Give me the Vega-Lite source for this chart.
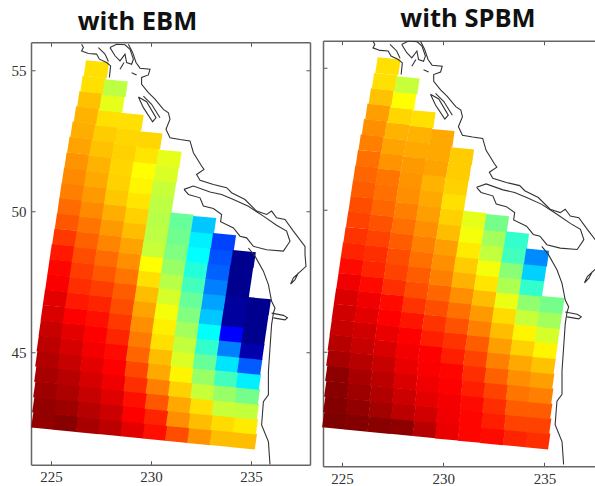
{"$schema":"https://vega.github.io/schema/vega-lite/v6.json","padding":{"left":11,"top":6.5,"right":0,"bottom":0},"spacing":11,"center":true,"background":"white","config":{"view":{"stroke":null},"axis":{"grid":false,"domainColor":"#666","domainWidth":1.5,"tickColor":"#555","tickSize":-4,"labelFont":"Liberation Serif","labelFontSize":15,"labelColor":"#333","title":null,"labelPadding":9}},
"datasets":{"cells":[
{"lon":224.64,"lat":42.58,"e":0.02,"s":0},{"lon":224.69,"lat":43.12,"e":0.02,"s":0.005},{"lon":224.74,"lat":43.66,"e":0.03,"s":0.01},{"lon":224.79,"lat":44.21,"e":0.04,"s":0.015},{"lon":224.84,"lat":44.75,"e":0.05,"s":0.04},{"lon":224.91,"lat":45.29,"e":0.06,"s":0.055},{"lon":225.01,"lat":45.83,"e":0.07,"s":0.07},{"lon":225.11,"lat":46.37,"e":0.09,"s":0.08},{"lon":225.22,"lat":46.92,"e":0.1,"s":0.09},{"lon":225.34,"lat":47.46,"e":0.12,"s":0.11},{"lon":225.45,"lat":48,"e":0.13,"s":0.135},{"lon":225.56,"lat":48.54,"e":0.15,"s":0.16},{"lon":225.69,"lat":49.08,"e":0.18,"s":0.175},{"lon":225.82,"lat":49.63,"e":0.21,"s":0.19},{"lon":225.94,"lat":50.17,"e":0.23,"s":0.2},{"lon":226.05,"lat":50.71,"e":0.25,"s":0.215},{"lon":226.17,"lat":51.25,"e":0.26,"s":0.225},{"lon":226.3,"lat":51.79,"e":0.27,"s":0.235},{"lon":226.44,"lat":52.34,"e":0.285,"s":0.25},{"lon":226.6,"lat":52.88,"e":0.295,"s":0.265},{"lon":226.77,"lat":53.42,"e":0.3,"s":0.28},{"lon":226.94,"lat":53.96,"e":0.315,"s":0.315},{"lon":227.1,"lat":54.5,"e":0.345,"s":0.345},{"lon":227.27,"lat":55.05,"e":0.345,"s":0.345},
{"lon":225.75,"lat":42.5,"e":0.01,"s":0.005},{"lon":225.8,"lat":43.04,"e":0.03,"s":0.02},{"lon":225.85,"lat":43.58,"e":0.045,"s":0.03},{"lon":225.9,"lat":44.12,"e":0.055,"s":0.04},{"lon":225.95,"lat":44.66,"e":0.07,"s":0.055},{"lon":226.02,"lat":45.2,"e":0.085,"s":0.07},{"lon":226.12,"lat":45.74,"e":0.1,"s":0.08},{"lon":226.22,"lat":46.28,"e":0.125,"s":0.1},{"lon":226.33,"lat":46.82,"e":0.15,"s":0.11},{"lon":226.45,"lat":47.36,"e":0.17,"s":0.135},{"lon":226.56,"lat":47.9,"e":0.185,"s":0.16},{"lon":226.67,"lat":48.44,"e":0.2,"s":0.17},{"lon":226.8,"lat":48.98,"e":0.22,"s":0.19},{"lon":226.93,"lat":49.52,"e":0.24,"s":0.205},{"lon":227.05,"lat":50.06,"e":0.26,"s":0.225},{"lon":227.16,"lat":50.6,"e":0.275,"s":0.235},{"lon":227.28,"lat":51.14,"e":0.29,"s":0.24},{"lon":227.41,"lat":51.68,"e":0.3,"s":0.27},{"lon":227.55,"lat":52.22,"e":0.315,"s":0.285},{"lon":227.71,"lat":52.76,"e":0.325,"s":0.3},{"lon":227.88,"lat":53.3,"e":0.345,"s":0.335},{"lon":228.05,"lat":53.84,"e":0.4,"s":0.375},{"lon":228.21,"lat":54.38,"e":0.44,"s":0.43},
{"lon":226.87,"lat":42.42,"e":0.04,"s":0.01},{"lon":226.92,"lat":42.96,"e":0.055,"s":0.035},{"lon":226.97,"lat":43.5,"e":0.07,"s":0.05},{"lon":227.02,"lat":44.04,"e":0.085,"s":0.06},{"lon":227.07,"lat":44.58,"e":0.1,"s":0.07},{"lon":227.14,"lat":45.11,"e":0.115,"s":0.09},{"lon":227.24,"lat":45.65,"e":0.125,"s":0.105},{"lon":227.34,"lat":46.19,"e":0.14,"s":0.125},{"lon":227.45,"lat":46.73,"e":0.16,"s":0.135},{"lon":227.57,"lat":47.27,"e":0.185,"s":0.17},{"lon":227.68,"lat":47.81,"e":0.21,"s":0.19},{"lon":227.79,"lat":48.34,"e":0.23,"s":0.2},{"lon":227.92,"lat":48.88,"e":0.255,"s":0.215},{"lon":228.05,"lat":49.42,"e":0.275,"s":0.235},{"lon":228.17,"lat":49.96,"e":0.295,"s":0.25},{"lon":228.28,"lat":50.5,"e":0.32,"s":0.265},{"lon":228.4,"lat":51.03,"e":0.33,"s":0.27},{"lon":228.53,"lat":51.57,"e":0.335,"s":0.275},{"lon":228.67,"lat":52.11,"e":0.33,"s":0.29},{"lon":228.83,"lat":52.65,"e":0.335,"s":0.3},{"lon":229,"lat":53.19,"e":0.345,"s":0.345},
{"lon":227.98,"lat":42.35,"e":0.06,"s":0.015},{"lon":228.03,"lat":42.88,"e":0.075,"s":0.06},{"lon":228.08,"lat":43.42,"e":0.095,"s":0.075},{"lon":228.13,"lat":43.96,"e":0.11,"s":0.09},{"lon":228.18,"lat":44.49,"e":0.125,"s":0.105},{"lon":228.25,"lat":45.03,"e":0.135,"s":0.115},{"lon":228.35,"lat":45.56,"e":0.16,"s":0.125},{"lon":228.45,"lat":46.1,"e":0.18,"s":0.145},{"lon":228.56,"lat":46.64,"e":0.2,"s":0.175},{"lon":228.68,"lat":47.17,"e":0.215,"s":0.2},{"lon":228.79,"lat":47.71,"e":0.24,"s":0.215},{"lon":228.9,"lat":48.24,"e":0.265,"s":0.235},{"lon":229.03,"lat":48.78,"e":0.285,"s":0.25},{"lon":229.16,"lat":49.32,"e":0.31,"s":0.265},{"lon":229.28,"lat":49.85,"e":0.33,"s":0.28},{"lon":229.39,"lat":50.39,"e":0.35,"s":0.29},{"lon":229.51,"lat":50.92,"e":0.365,"s":0.3},{"lon":229.64,"lat":51.46,"e":0.375,"s":0.285},{"lon":229.78,"lat":52,"e":0.35,"s":0.29},{"lon":229.94,"lat":52.53,"e":0.335,"s":0.29},
{"lon":229.1,"lat":42.27,"e":0.1,"s":0.055},{"lon":229.15,"lat":42.8,"e":0.125,"s":0.08},{"lon":229.2,"lat":43.34,"e":0.14,"s":0.1},{"lon":229.25,"lat":43.87,"e":0.17,"s":0.11},{"lon":229.3,"lat":44.4,"e":0.195,"s":0.12},{"lon":229.37,"lat":44.94,"e":0.225,"s":0.125},{"lon":229.47,"lat":45.47,"e":0.245,"s":0.155},{"lon":229.57,"lat":46,"e":0.265,"s":0.175},{"lon":229.68,"lat":46.54,"e":0.285,"s":0.2},{"lon":229.8,"lat":47.07,"e":0.31,"s":0.225},{"lon":229.91,"lat":47.61,"e":0.345,"s":0.25},{"lon":230.02,"lat":48.14,"e":0.375,"s":0.265},{"lon":230.15,"lat":48.67,"e":0.43,"s":0.28},{"lon":230.28,"lat":49.21,"e":0.44,"s":0.31},{"lon":230.4,"lat":49.74,"e":0.445,"s":0.33},{"lon":230.51,"lat":50.28,"e":0.44,"s":0.345},{"lon":230.63,"lat":50.81,"e":0.43,"s":0.33},{"lon":230.76,"lat":51.34,"e":0.41,"s":0.325},{"lon":230.9,"lat":51.88,"e":0.4,"s":0.325},
{"lon":230.21,"lat":42.19,"e":0.14,"s":0.105},{"lon":230.26,"lat":42.72,"e":0.16,"s":0.11},{"lon":230.31,"lat":43.25,"e":0.21,"s":0.115},{"lon":230.36,"lat":43.79,"e":0.25,"s":0.125},{"lon":230.41,"lat":44.32,"e":0.29,"s":0.13},{"lon":230.48,"lat":44.85,"e":0.31,"s":0.155},{"lon":230.58,"lat":45.38,"e":0.345,"s":0.175},{"lon":230.68,"lat":45.92,"e":0.36,"s":0.205},{"lon":230.79,"lat":46.45,"e":0.385,"s":0.235},{"lon":230.91,"lat":46.98,"e":0.415,"s":0.265},{"lon":231.02,"lat":47.52,"e":0.445,"s":0.3},{"lon":231.13,"lat":48.05,"e":0.475,"s":0.325},{"lon":231.26,"lat":48.58,"e":0.5,"s":0.355},{"lon":231.39,"lat":49.11,"e":0.515,"s":0.385},{"lon":231.51,"lat":49.65,"e":0.525,"s":0.4},
{"lon":231.33,"lat":42.11,"e":0.2,"s":0.13},{"lon":231.38,"lat":42.64,"e":0.265,"s":0.13},{"lon":231.43,"lat":43.17,"e":0.29,"s":0.135},{"lon":231.48,"lat":43.7,"e":0.33,"s":0.155},{"lon":231.53,"lat":44.23,"e":0.365,"s":0.17},{"lon":231.6,"lat":44.76,"e":0.41,"s":0.19},{"lon":231.7,"lat":45.29,"e":0.435,"s":0.215},{"lon":231.8,"lat":45.82,"e":0.465,"s":0.25},{"lon":231.91,"lat":46.35,"e":0.5,"s":0.275},{"lon":232.03,"lat":46.88,"e":0.525,"s":0.31},{"lon":232.14,"lat":47.41,"e":0.56,"s":0.35},{"lon":232.25,"lat":47.94,"e":0.59,"s":0.385},{"lon":232.38,"lat":48.47,"e":0.625,"s":0.435},{"lon":232.51,"lat":49,"e":0.64,"s":0.465},{"lon":232.63,"lat":49.53,"e":0.68,"s":0.51},
{"lon":232.44,"lat":42.03,"e":0.27,"s":0.135},{"lon":232.49,"lat":42.56,"e":0.31,"s":0.155},{"lon":232.54,"lat":43.09,"e":0.345,"s":0.17},{"lon":232.59,"lat":43.62,"e":0.43,"s":0.19},{"lon":232.64,"lat":44.15,"e":0.475,"s":0.22},{"lon":232.71,"lat":44.68,"e":0.525,"s":0.25},{"lon":232.81,"lat":45.21,"e":0.575,"s":0.28},{"lon":232.91,"lat":45.74,"e":0.625,"s":0.31},{"lon":233.02,"lat":46.27,"e":0.68,"s":0.34},{"lon":233.14,"lat":46.8,"e":0.715,"s":0.395},{"lon":233.25,"lat":47.33,"e":0.75,"s":0.455},{"lon":233.36,"lat":47.86,"e":0.78,"s":0.49},{"lon":233.49,"lat":48.39,"e":0.795,"s":0.56},{"lon":233.62,"lat":48.92,"e":0.81,"s":0.575},
{"lon":233.56,"lat":41.96,"e":0.31,"s":0.16},{"lon":233.61,"lat":42.49,"e":0.34,"s":0.19},{"lon":233.66,"lat":43.02,"e":0.43,"s":0.215},{"lon":233.71,"lat":43.55,"e":0.475,"s":0.24},{"lon":233.76,"lat":44.08,"e":0.56,"s":0.265},{"lon":233.83,"lat":44.61,"e":0.65,"s":0.29},{"lon":233.93,"lat":45.14,"e":0.75,"s":0.33},{"lon":234.03,"lat":45.67,"e":0.875,"s":0.365},{"lon":234.14,"lat":46.2,"e":0.97,"s":0.43},{"lon":234.26,"lat":46.73,"e":0.97,"s":0.485},{"lon":234.37,"lat":47.26,"e":0.985,"s":0.575},{"lon":234.48,"lat":47.79,"e":0.985,"s":0.67},{"lon":234.61,"lat":48.32,"e":0.985,"s":0.74},
{"lon":234.67,"lat":41.88,"e":0.31,"s":0.17},{"lon":234.72,"lat":42.41,"e":0.355,"s":0.19},{"lon":234.77,"lat":42.94,"e":0.435,"s":0.215},{"lon":234.82,"lat":43.47,"e":0.51,"s":0.25},{"lon":234.87,"lat":44,"e":0.64,"s":0.28},{"lon":234.94,"lat":44.53,"e":0.785,"s":0.315},{"lon":235.04,"lat":45.06,"e":0.955,"s":0.365},{"lon":235.14,"lat":45.59,"e":0.985,"s":0.415},{"lon":235.25,"lat":46.12,"e":0.985,"s":0.465},{"lon":235.37,"lat":46.65,"e":0.985,"s":0.51}
],"coast":[
{"g":"m","lon":228.87,"lat":55.94},{"g":"m","lon":229.08,"lat":55.65},{"g":"m","lon":229.25,"lat":55.29},{"g":"m","lon":229.45,"lat":55.09},{"g":"m","lon":229.95,"lat":55.05},{"g":"m","lon":229.87,"lat":54.85},{"g":"m","lon":229.53,"lat":54.76},{"g":"m","lon":229.53,"lat":54.52},{"g":"m","lon":229.87,"lat":54.22},{"g":"m","lon":230.2,"lat":53.99},{"g":"m","lon":230.62,"lat":53.63},{"g":"m","lon":230.87,"lat":53.51},{"g":"m","lon":230.95,"lat":53.28},{"g":"m","lon":230.75,"lat":52.92},{"g":"m","lon":230.95,"lat":52.62},{"g":"m","lon":231.45,"lat":52.56},{"g":"m","lon":231.95,"lat":52.51},{"g":"m","lon":232.12,"lat":52.09},{"g":"m","lon":232.53,"lat":51.62},{"g":"m","lon":232.65,"lat":51.5},{"g":"m","lon":232.28,"lat":51.32},{"g":"m","lon":232.45,"lat":51.11},{"g":"m","lon":233.12,"lat":50.96},{"g":"m","lon":233.78,"lat":50.85},{"g":"m","lon":234.03,"lat":50.67},{"g":"m","lon":234.7,"lat":50.43},{"g":"m","lon":235.28,"lat":50.02},{"g":"m","lon":235.78,"lat":49.9},{"g":"m","lon":236.03,"lat":50.02},{"g":"m","lon":236.28,"lat":49.78},{"g":"m","lon":236.7,"lat":49.72},{"g":"m","lon":237.12,"lat":49.31},{"g":"m","lon":237.7,"lat":48.77},{"g":"m","lon":237.7,"lat":48.48},{"g":"m","lon":237.75,"lat":48.06},{"g":"m","lon":237.12,"lat":47.65},{"g":"m","lon":236.98,"lat":47.43},{"g":"m","lon":237.2,"lat":47.59},{"g":"m","lon":237.37,"lat":47.83},
{"g":"i","lon":231.65,"lat":50.79},{"g":"i","lon":232.12,"lat":50.91},{"g":"i","lon":232.95,"lat":50.7},{"g":"i","lon":233.53,"lat":50.61},{"g":"i","lon":234.12,"lat":50.43},{"g":"i","lon":234.87,"lat":50.19},{"g":"i","lon":235.62,"lat":49.84},{"g":"i","lon":236.28,"lat":49.52},{"g":"i","lon":236.78,"lat":49.31},{"g":"i","lon":236.95,"lat":48.95},{"g":"i","lon":236.62,"lat":48.6},{"g":"i","lon":235.78,"lat":48.65},{"g":"i","lon":235.12,"lat":48.77},{"g":"i","lon":234.78,"lat":49.07},{"g":"i","lon":234.45,"lat":49.13},{"g":"i","lon":234.12,"lat":49.42},{"g":"i","lon":233.48,"lat":49.64},{"g":"i","lon":233.53,"lat":49.9},{"g":"i","lon":233.12,"lat":50.11},{"g":"i","lon":232.62,"lat":50.2},{"g":"i","lon":232.45,"lat":50.49},{"g":"i","lon":231.87,"lat":50.61},{"g":"i","lon":231.65,"lat":50.79},
{"g":"w","lon":234.87,"lat":48.71},{"g":"w","lon":235.2,"lat":48.42},{"g":"w","lon":235.62,"lat":47.89},{"g":"w","lon":235.87,"lat":47.41},{"g":"w","lon":236.03,"lat":46.82},{"g":"w","lon":236.2,"lat":46.58},{"g":"w","lon":236.12,"lat":46.4},{"g":"w","lon":236.03,"lat":45.99},{"g":"w","lon":235.95,"lat":45.16},{"g":"w","lon":235.87,"lat":44.33},{"g":"w","lon":235.87,"lat":43.5},{"g":"w","lon":235.62,"lat":43.26},{"g":"w","lon":235.53,"lat":42.43},{"g":"w","lon":235.87,"lat":41.84},{"g":"w","lon":235.95,"lat":41.03},
{"g":"c","lon":236.03,"lat":46.4},{"g":"c","lon":236.62,"lat":46.32},{"g":"c","lon":236.82,"lat":46.23},{"g":"c","lon":236.7,"lat":46.16},{"g":"c","lon":236.12,"lat":46.23},
{"g":"s1","lon":226.53,"lat":55.94},{"g":"s1","lon":226.62,"lat":55.82},{"g":"s1","lon":226.53,"lat":55.7},{"g":"s1","lon":226.87,"lat":55.61},{"g":"s1","lon":227.28,"lat":55.59},{"g":"s1","lon":227.42,"lat":55.41},{"g":"s1","lon":227.78,"lat":55.29},{"g":"s1","lon":227.98,"lat":55.17},{"g":"s1","lon":227.92,"lat":54.76},
{"g":"s2","lon":227.37,"lat":55.82},{"g":"s2","lon":227.7,"lat":55.59},{"g":"s2","lon":227.87,"lat":55.33},
{"g":"s3","lon":227.95,"lat":55.82},{"g":"s3","lon":228.28,"lat":55.94},{"g":"s3","lon":228.7,"lat":55.92},{"g":"s3","lon":228.95,"lat":55.76},{"g":"s3","lon":229.12,"lat":55.41},{"g":"s3","lon":229.03,"lat":55.23},{"g":"s3","lon":228.78,"lat":55.29},{"g":"s3","lon":228.7,"lat":55.59},{"g":"s3","lon":228.45,"lat":55.35},{"g":"s3","lon":228.2,"lat":55.53},{"g":"s3","lon":227.95,"lat":55.82},
{"g":"s4","lon":228.45,"lat":55.05},{"g":"s4","lon":228.65,"lat":55.29},
{"g":"s5","lon":229.03,"lat":54.93},{"g":"s5","lon":229.28,"lat":54.85},
{"g":"s6","lon":229.37,"lat":54.07},{"g":"s6","lon":229.78,"lat":53.9},{"g":"s6","lon":230.25,"lat":53.33},{"g":"s6","lon":230.08,"lat":53.19},{"g":"s6","lon":229.62,"lat":53.69},{"g":"s6","lon":229.37,"lat":54.07},
{"g":"s7","lon":229.62,"lat":54.1},{"g":"s7","lon":230.03,"lat":53.81},{"g":"s7","lon":230.45,"lat":53.33}
]},
"hconcat":[
{"width":279,"height":422.5,"title":{"text":"with EBM","font":"Open Sans","fontSize":25.5,"fontWeight":"bold","color":"#111","anchor":"middle","dx":-33,"offset":6},
"resolve":{"axis":{"x":"independent","y":"independent"}},
"layer":[
{"data":{"name":"cells"},"mark":{"type":"point","shape":"M -10.35 -9 L 12.65 -6.8 L 10.35 9 L -12.65 6.8 Z","size":4,"filled":true,"opacity":1,"strokeWidth":0},"encoding":{"x":{"field":"lon","type":"quantitative","scale":{"domain":[224,237.95],"nice":false,"zero":false},"axis":{"orient":"bottom","values":[225,230,235]}},"y":{"field":"lat","type":"quantitative","scale":{"domain":[41.02,56.01],"nice":false,"zero":false},"axis":{"orient":"left","values":[45,50,55]}},"color":{"field":"e","type":"quantitative","legend":null,"scale":{"domain":[0,0.125,0.375,0.625,0.875,1],"range":["#7f0000","#ff0000","#ffff00","#00ffff","#0000ff","#00007f"],"interpolate":"rgb"}}}},
{"data":{"name":"coast"},"mark":{"type":"line","stroke":"#333","strokeWidth":1.1,"clip":true},"encoding":{"x":{"field":"lon","type":"quantitative","scale":{"domain":[224,237.95],"nice":false,"zero":false},"axis":{"orient":"top","values":[225,230,235],"labels":false}},"y":{"field":"lat","type":"quantitative","scale":{"domain":[41.02,56.01],"nice":false,"zero":false},"axis":{"orient":"right","values":[45,50,55],"labels":false}},"detail":{"field":"g"},"order":{"value":null}}}
]},
{"width":272,"height":425.5,"title":{"text":"with SPBM","font":"Open Sans","fontSize":25.5,"fontWeight":"bold","color":"#111","anchor":"middle","dx":9,"offset":8},
"resolve":{"axis":{"x":"independent","y":"independent"}},
"layer":[
{"data":{"name":"cells"},"mark":{"type":"point","shape":"M -10.35 -9 L 12.65 -6.8 L 10.35 9 L -12.65 6.8 Z","size":4,"filled":true,"opacity":1,"strokeWidth":0},"encoding":{"x":{"field":"lon","type":"quantitative","scale":{"domain":[224.06,237.5],"nice":false,"zero":false},"axis":{"orient":"bottom","values":[225,230,235]}},"y":{"field":"lat","type":"quantitative","scale":{"domain":[40.97,55.95],"nice":false,"zero":false},"axis":{"orient":"left","values":[45,50,55],"labels":false}},"color":{"field":"s","type":"quantitative","legend":null,"scale":{"domain":[0,0.125,0.375,0.625,0.875,1],"range":["#7f0000","#ff0000","#ffff00","#00ffff","#0000ff","#00007f"],"interpolate":"rgb"}}}},
{"data":{"name":"coast"},"mark":{"type":"line","stroke":"#333","strokeWidth":1.1,"clip":true},"encoding":{"x":{"field":"lon","type":"quantitative","scale":{"domain":[224.06,237.5],"nice":false,"zero":false},"axis":{"orient":"top","values":[225,230,235],"labels":false}},"y":{"field":"lat","type":"quantitative","scale":{"domain":[40.97,55.95],"nice":false,"zero":false},"axis":null},"detail":{"field":"g"},"order":{"value":null}}}
]}
]}
